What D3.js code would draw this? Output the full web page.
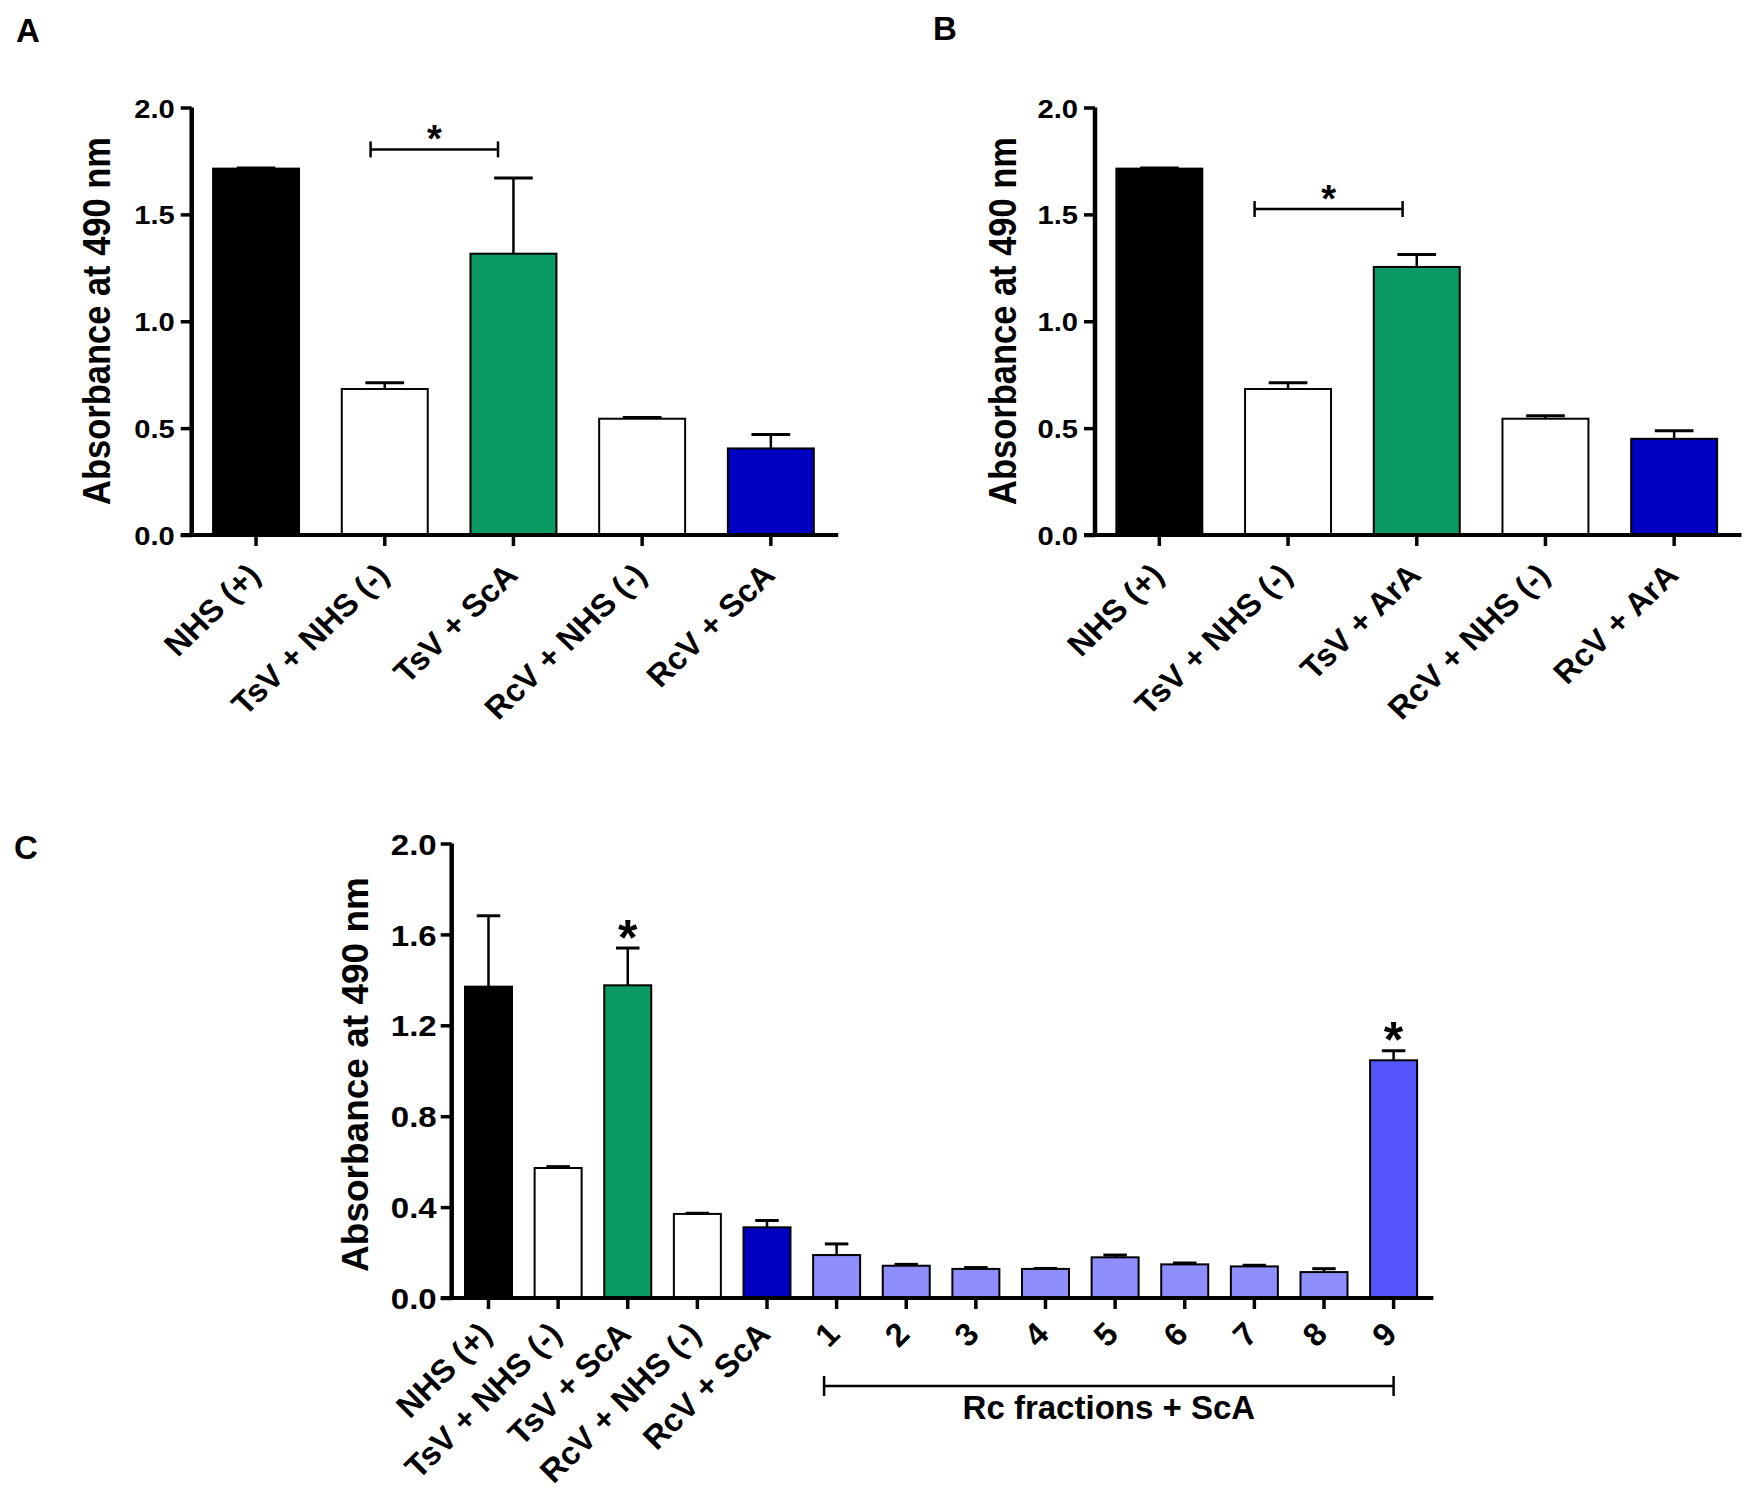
<!DOCTYPE html>
<html><head><meta charset="utf-8">
<script src="https://cdn.jsdelivr.net/npm/d3@7"></script>
<style>
body{margin:0;background:#fff}
text{font-family:"Liberation Sans",Arial,Helvetica,sans-serif;font-weight:bold;fill:#000}
</style>
</head><body>
<svg id="chart" width="1750" height="1501"></svg>
<script>
// ---------------- DATA ----------------
const catsA = ["NHS (+)", "TsV + NHS (-)", "TsV + ScA", "RcV + NHS (-)", "RcV + ScA"];
const valsA = [1.714, 0.683, 1.316, 0.544, 0.405];
const errsA = [0.003, 0.029, 0.354, 0.006, 0.065];

const catsB = ["NHS (+)", "TsV + NHS (-)", "TsV + ArA", "RcV + NHS (-)", "RcV + ArA"];
const valsB = [1.714, 0.683, 1.254, 0.544, 0.450];
const errsB = [0.003, 0.029, 0.058, 0.014, 0.038];

const catsC = ["NHS (+)", "TsV + NHS (-)", "TsV + ScA", "RcV + NHS (-)", "RcV + ScA",
               "1", "2", "3", "4", "5", "6", "7", "8", "9"];
const valsC = [1.370, 0.572, 1.376, 0.370, 0.311, 0.189, 0.142, 0.128, 0.128, 0.179, 0.148, 0.139, 0.114, 1.046];
const errsC = [0.312, 0.006, 0.164, 0.003, 0.030, 0.049, 0.006, 0.006, 0.002, 0.010, 0.006, 0.005, 0.015, 0.042];

const colorsAB = ["#000000", "#ffffff", "#0b9a64", "#ffffff", "#0000c2"];
const colorsC = ["#000000", "#ffffff", "#0b9a64", "#ffffff", "#0000c2",
                 "#8e8eff", "#8e8eff", "#8e8eff", "#8e8eff", "#8e8eff", "#8e8eff", "#8e8eff", "#8e8eff", "#5656ff"];

const yTicksAB = [0, 0.5, 1.0, 1.5, 2.0];
const yTicksC = [0, 0.4, 0.8, 1.2, 1.6, 2.0];
const yTitle = "Absorbance at 490 nm";

// significance brackets: [from category index, to category index, y value]
const bracketA = [0.89, 1.88, 1.804];
const bracketB = [0.74, 1.89, 1.525];
const starsC = [2, 13];          // indices marked with * in panel C
const groupC = [4.82, 13.0];     // "Rc fractions + ScA" bracket span (category indices)
const groupLabelC = "Rc fractions + ScA";

// ---------------- DRAW ----------------
const svg = d3.select("#chart");

function drawPanel(cfg) {
  const g = svg.append("g");
  const x = d3.scaleBand().domain(cfg.cats).range([cfg.x0, cfg.x1])
    .paddingInner(cfg.pi).paddingOuter(cfg.po);
  const y = d3.scaleLinear().domain([0, 2]).range([cfg.yB, cfg.yT]);
  const bw = x.bandwidth(), step = x.step();
  const cx = i => x(cfg.cats[i]) + bw / 2;
  const cxf = f => x(cfg.cats[0]) + bw / 2 + f * step;

  // bars
  g.selectAll("rect.bar").data(cfg.vals).join("rect")
    .attr("class", "bar")
    .attr("x", (d, i) => x(cfg.cats[i]))
    .attr("y", d => y(d))
    .attr("width", bw)
    .attr("height", d => y(0) - y(d))
    .attr("fill", (d, i) => cfg.colors[i])
    .attr("stroke", "#000").attr("stroke-width", 2);

  // error bars (upper only)
  const capW = bw * cfg.capFrac;
  g.selectAll("line.err").data(cfg.vals).join("line")
    .attr("x1", (d, i) => cx(i)).attr("x2", (d, i) => cx(i))
    .attr("y1", d => y(d)).attr("y2", (d, i) => y(d + cfg.errs[i]))
    .attr("stroke", "#000").attr("stroke-width", 2.5);
  g.selectAll("line.cap").data(cfg.vals).join("line")
    .attr("x1", (d, i) => cx(i) - capW / 2).attr("x2", (d, i) => cx(i) + capW / 2)
    .attr("y1", (d, i) => y(d + cfg.errs[i])).attr("y2", (d, i) => y(d + cfg.errs[i]))
    .attr("stroke", "#000").attr("stroke-width", 3);

  // y axis
  const ya = d3.axisLeft(y).tickValues(cfg.yTicks).tickFormat(d3.format(".1f"))
    .tickSize(11).tickSizeOuter(0);
  const yg = g.append("g").attr("transform", `translate(${cfg.x0},0)`).call(ya);
  yg.select(".domain").attr("stroke", "#000").attr("stroke-width", 4.5)
    .attr("d", `M0,${cfg.yB + 2}V${cfg.yT}`);
  yg.selectAll(".tick line").attr("stroke", "#000").attr("stroke-width", 3.5);
  yg.selectAll(".tick text")
    .attr("x", null).attr("dy", "0.36em")
    .attr("transform", `translate(${-(11 + cfg.yPad)},0) scale(${cfg.yTickSx},1)`)
    .style("font-size", cfg.yTickFs + "px")
    .style("font-family", '"Liberation Sans",Arial,sans-serif')
    .style("font-weight", "bold").attr("fill", "#000");

  // x axis
  const xa = d3.axisBottom(x).tickSize(11).tickSizeOuter(0).tickFormat("");
  const xg = g.append("g").attr("transform", `translate(0,${y(0)})`).call(xa);
  xg.select(".domain").remove();
  xg.selectAll(".tick line").attr("stroke", "#000").attr("stroke-width", 3.5);
  g.append("line").attr("x1", cfg.x0 - 11).attr("x2", cfg.x1 + 3)
    .attr("y1", y(0)).attr("y2", y(0)).attr("stroke", "#000").attr("stroke-width", 4);

  // x labels
  g.selectAll("text.xl").data(cfg.cats).join("text")
    .attr("class", "xl")
    .attr("text-anchor", "end")
    .attr("transform", (d, i) => `translate(${cx(i) + cfg.lblDx},${y(0) + cfg.lblDy}) scale(${cfg.lblSx},1) rotate(-45)`)
    .style("font-size", cfg.lblFs + "px")
    .text(d => d);

  // y title
  g.append("text").attr("text-anchor", "middle")
    .attr("transform", `translate(${cfg.titleX},${cfg.titleY}) rotate(-90) scale(1,${cfg.titleSy})`)
    .style("font-size", cfg.titleFs + "px")
    .text(yTitle);

  // panel letter
  g.append("text").attr("x", cfg.letterX).attr("y", cfg.letterY)
    .style("font-size", "33px").text(cfg.letter);

  return {x, y, cx, cxf, bw, step};
}

// Panel A
const pA = drawPanel({
  cats: catsA, vals: valsA, errs: errsA, colors: colorsAB, yTicks: yTicksAB,
  x0: 191.7, x1: 835.2, pi: 0.332, po: 0.166, yB: 535, yT: 107.5,
  capFrac: 0.45, yPad: 6, yTickFs: 26.5, yTickSx: 1.1,
  lblDx: 6, lblDy: 42, lblSx: 1.04, lblFs: 31.5,
  titleX: 110, titleY: 321, titleSy: 1.15, titleFs: 34.5,
  letter: "A", letterX: 16, letterY: 42
});
// Panel B
const pB = drawPanel({
  cats: catsB, vals: valsB, errs: errsB, colors: colorsAB, yTicks: yTicksAB,
  x0: 1095, x1: 1738.5, pi: 0.332, po: 0.166, yB: 535, yT: 107.5,
  capFrac: 0.45, yPad: 6, yTickFs: 26.5, yTickSx: 1.1,
  lblDx: 6, lblDy: 42, lblSx: 1.04, lblFs: 31.5,
  titleX: 1016, titleY: 321, titleSy: 1.15, titleFs: 34.5,
  letter: "B", letterX: 933, letterY: 40
});
// Panel C
const pC = drawPanel({
  cats: catsC, vals: valsC, errs: errsC, colors: colorsC, yTicks: yTicksC,
  x0: 451.7, x1: 1430.4, pi: 0.325, po: 0.191, yB: 1298, yT: 843.5,
  capFrac: 0.5, yPad: 4, yTickFs: 29.5, yTickSx: 1.12,
  lblDx: 5, lblDy: 38, lblSx: 1.0, lblFs: 32.5,
  titleX: 368, titleY: 1074.5, titleSy: 1.0, titleFs: 37,
  letter: "C", letterX: 14, letterY: 859
});

// significance brackets A & B
function bracket(p, b, starFs) {
  const g = svg.append("g");
  const xa = p.cxf(b[0]), xb = p.cxf(b[1]), yy = p.y(b[2]);
  g.append("line").attr("x1", xa).attr("x2", xb).attr("y1", yy).attr("y2", yy)
    .attr("stroke", "#000").attr("stroke-width", 2.5);
  [xa, xb].forEach(xx => g.append("line").attr("x1", xx).attr("x2", xx)
    .attr("y1", yy - 8).attr("y2", yy + 8).attr("stroke", "#000").attr("stroke-width", 2.5));
  g.append("text").attr("x", (xa + xb) / 2).attr("y", yy - 19 + 0.57 * starFs)
    .attr("text-anchor", "middle").style("font-size", starFs + "px").text("*");
}
bracket(pA, bracketA, 38);
bracket(pB, bracketB, 38);

// stars in C
starsC.forEach(i => {
  const top = pC.y(valsC[i] + errsC[i]);
  svg.append("text").attr("x", pC.cx(i)).attr("y", top - 22 + 0.57 * 50)
    .attr("text-anchor", "middle").style("font-size", "50px").text("*");
});

// group bracket in C
{
  const g = svg.append("g");
  const xa = pC.cxf(groupC[0]), xb = pC.cxf(groupC[1]), yy = 1386;
  g.append("line").attr("x1", xa).attr("x2", xb).attr("y1", yy).attr("y2", yy)
    .attr("stroke", "#000").attr("stroke-width", 2.5);
  [xa, xb].forEach(xx => g.append("line").attr("x1", xx).attr("x2", xx)
    .attr("y1", yy - 10).attr("y2", yy + 10).attr("stroke", "#000").attr("stroke-width", 2.5));
  g.append("text").attr("text-anchor", "middle")
    .attr("transform", `translate(${(xa + xb) / 2},1419)`)
    .style("font-size", "33px").text(groupLabelC);
}
</script>
</body></html>
